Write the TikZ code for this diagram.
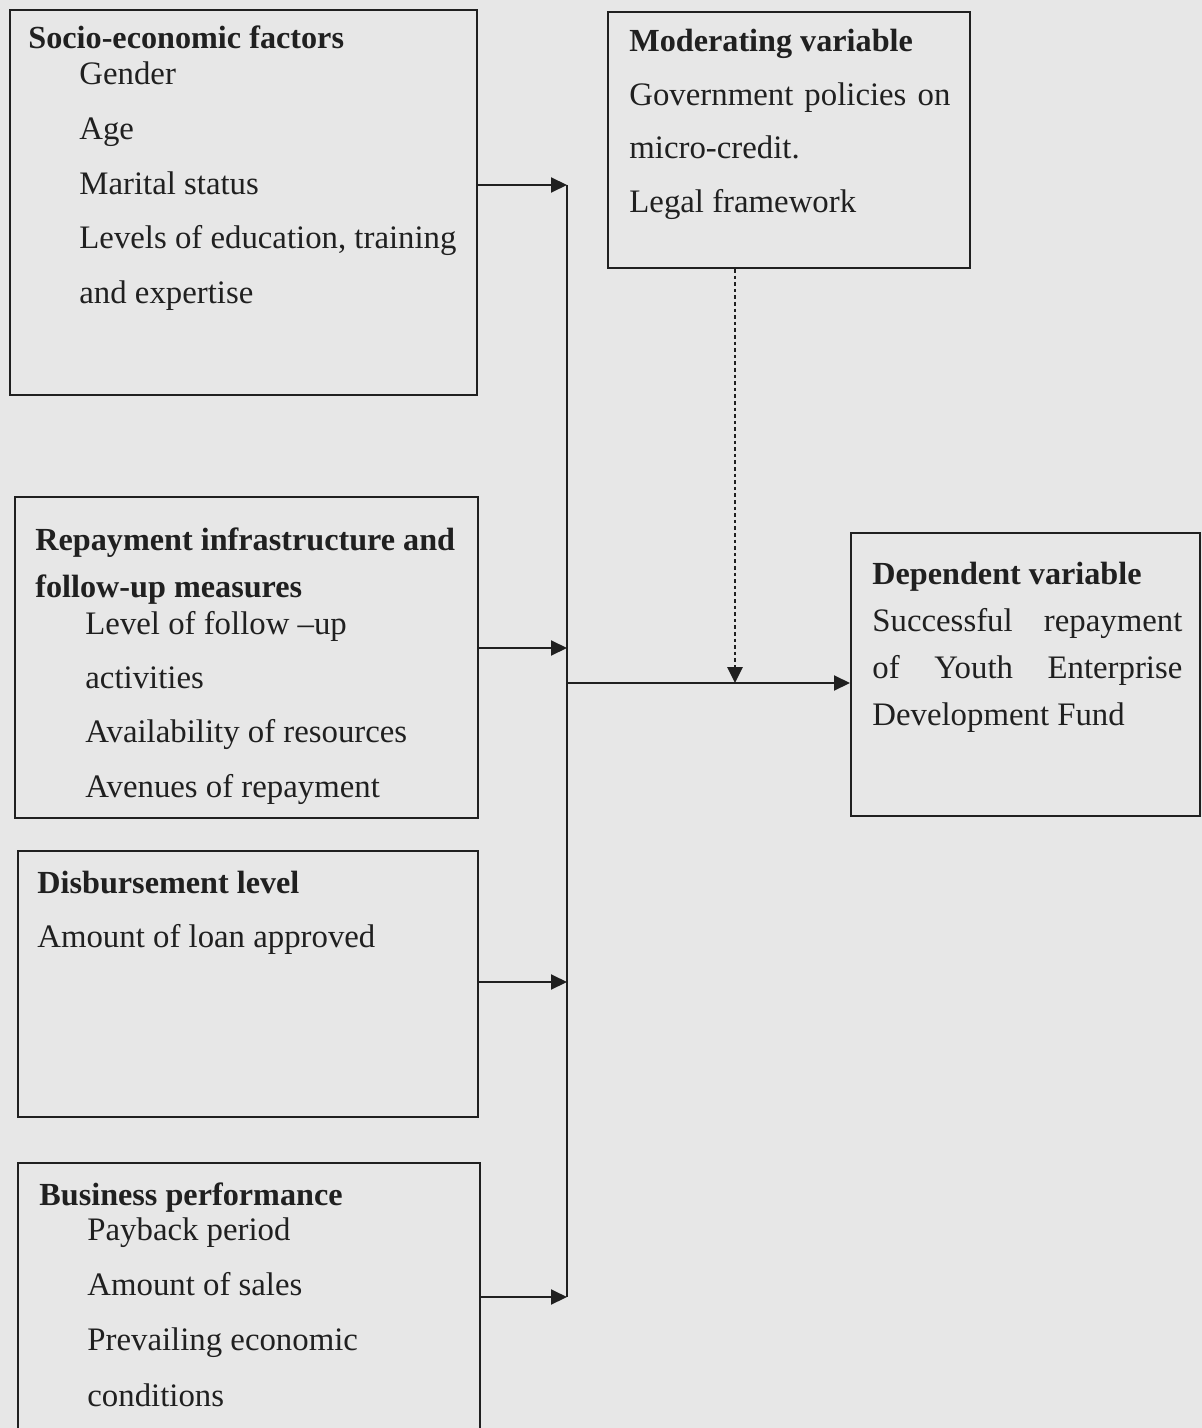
\documentclass[tikz,border=0pt]{standalone}
\usepackage{fontspec}
\setmainfont{Liberation Serif}
\usetikzlibrary{arrows.meta,fit}
\definecolor{paper}{RGB}{231,231,231}
\definecolor{ink}{RGB}{32,32,32}
\begin{document}
\begin{tikzpicture}[x=0.5pt,y=-0.5pt]
	\tikzset{box/.style={draw=ink, line width=1pt, inner sep=0pt},
		hd/.style={anchor=base west, inner sep=0pt, text=ink, font=\fontsize{16.1}{19}\selectfont\bfseries},
		it/.style={anchor=base west, inner sep=0pt, text=ink, font=\fontsize{16.4}{19}\selectfont},
		arr/.style={draw=ink, line width=1pt, -{Triangle[length=8pt,width=7.5pt]}},
		dsh/.style={arr, line width=1.4pt, dash pattern=on 1.8pt off 1.5pt}};

	\fill[paper] (0,0) rectangle (1202,1428);
	\useasboundingbox (0,0) rectangle (1202,1428);

	% boxes
	\node[box, fit={(10,10) (477,395)}] (socio) {};
	\node[box, fit={(608,12) (970,268)}] (mod) {};
	\node[box, fit={(15,497) (478,818)}] (rep) {};
	\node[box, fit={(18,851) (478,1117)}] (disb) {};
	\node[box, fit={(18,1163) (480,1440)}] (bus) {};
	\node[box, fit={(851,533) (1200,816)}] (dep) {};

	% socio-economic factors
	\node[hd] (s0) at (28,49) {Socio-economic factors};
	\node[it] (s1) at (79,85) {Gender};
	\node[it] (s2) at (79,140) {Age};
	\node[it] (s3) at (79,195) {Marital status};
	\node[it] (s4) at (79,249) {Levels of education, training};
	\node[it] (s5) at (79,304) {and expertise};

	% moderating variable
	\node[hd] (m0) at (629,52) {Moderating variable};
	\node[it] (m1) at (629,106) {\hbox to 160.5pt{Government\hfill policies\hfill on}};
	\node[it] (m2) at (629,159) {micro-credit.};
	\node[it] (m3) at (629,213) {Legal framework};

	% repayment infrastructure
	\node[hd] (r0) at (35,550) {Repayment infrastructure and};
	\node[hd] (r1) at (35,597) {follow-up measures};
	\node[it] (r2) at (85,634) {Level of follow --up};
	\node[it] (r3) at (85,688) {activities};
	\node[it] (r4) at (85,742) {Availability of resources};
	\node[it] (r5) at (85,797) {Avenues of repayment};

	% disbursement level
	\node[hd] (d0) at (37,893) {Disbursement level};
	\node[it] (d1) at (37,947) {Amount of loan approved};

	% business performance
	\node[hd] (b0) at (39,1205) {Business performance};
	\node[it] (b1) at (87,1240) {Payback period};
	\node[it] (b2) at (87,1295) {Amount of sales};
	\node[it] (b3) at (87,1350) {Prevailing economic};
	\node[it] (b4) at (87,1406) {conditions};

	% dependent variable
	\node[hd] (v0) at (872,584) {Dependent variable};
	\node[it] (v1) at (872,631) {\hbox to 155pt{Successful\hfill repayment}};
	\node[it] (v2) at (872,678) {\hbox to 155pt{of\hfill Youth\hfill Enterprise}};
	\node[it] (v3) at (872,725) {Development Fund};

	% connectors
	\coordinate (j1) at (567,185);
	\coordinate (j2) at (567,648);
	\coordinate (j3) at (567,982);
	\coordinate (j4) at (567,1297);
	\coordinate (jm) at (567,683);
	\coordinate (jd) at (735,683);

	\draw[arr] (socio.east |- j1) to (j1);
	\draw[arr] (rep.east |- j2) to (j2);
	\draw[arr] (disb.east |- j3) to (j3);
	\draw[arr] (bus.east |- j4) to (j4);
	\draw[draw=ink, line width=1pt] (j1) to (j4);
	\draw[arr] (jm) to (dep.west |- jm);
	\draw[dsh] (mod.south -| jd) to (jd);
\end{tikzpicture}
\end{document}
